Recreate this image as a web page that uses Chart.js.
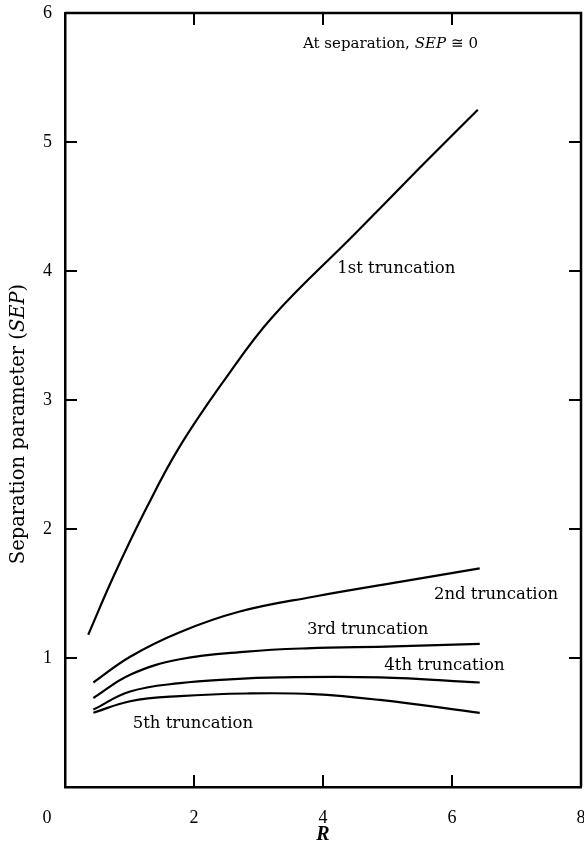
<!DOCTYPE html>
<html>
<head>
<meta charset="utf-8">
<script src="https://cdn.jsdelivr.net/npm/chart.js@4.4.1/dist/chart.umd.min.js"></script>
<style>
  html, body { margin: 0; padding: 0; background: #fff; }
  #wrap { width: 584px; height: 848px; position: relative; }
</style>
</head>
<body>
<div id="wrap"><canvas id="c"></canvas></div>
<script>
// Separation parameter SEP against R for successive truncations
const r1 = [0.36, 0.75, 1.27, 1.78, 2.48, 3.21, 4.50, 5.50, 6.40];
const sep1 = [1.18, 1.63, 2.17, 2.64, 3.16, 3.64, 4.29, 4.80, 5.25];

const r2 = [0.44, 1.01, 1.78, 2.71, 3.85, 5.19, 6.43];
const sep2 = [0.81, 1.01, 1.20, 1.36, 1.475, 1.59, 1.695];

const r3 = [0.44, 1.01, 1.78, 2.82, 3.75, 5.10, 6.43];
const sep3 = [0.69, 0.87, 0.99, 1.05, 1.075, 1.09, 1.11];

const r4 = [0.44, 1.01, 1.78, 2.55, 3.33, 4.88, 6.43];
const sep4 = [0.60, 0.74, 0.805, 0.835, 0.85, 0.85, 0.81];

const r5 = [0.44, 1.01, 1.78, 2.82, 3.85, 4.88, 6.43];
const sep5 = [0.575, 0.665, 0.705, 0.725, 0.72, 0.675, 0.575];

const xTicks = [0, 2, 4, 6, 8];
const yTicks = [0, 1, 2, 3, 4, 5, 6];

const seriesNames = ['1st truncation', '2nd truncation', '3rd truncation', '4th truncation', '5th truncation'];

const pts = (xs, ys) => xs.map((x, i) => ({ x: x, y: ys[i] }));

const serifFont = '"DejaVu Serif", serif';
const tickFont = '"Liberation Serif", "Times New Roman", serif';

// curve captions, anchored in data units (left edge, vertical middle)
const captionAnchors = [
  { text: seriesNames[0], x: 4.22, y: 4.02 },
  { text: seriesNames[1], x: 5.72, y: 1.49 },
  { text: seriesNames[2], x: 3.75, y: 1.22 },
  { text: seriesNames[3], x: 4.95, y: 0.94 },
  { text: seriesNames[4], x: 1.05, y: 0.49 }
];

const framePlugin = {
  id: 'frameAndText',
  afterDraw(chart) {
    const ctx = chart.ctx;
    const xs = chart.scales.x, ys = chart.scales.y;
    const a = chart.chartArea;
    ctx.save();
    ctx.strokeStyle = '#000';
    ctx.fillStyle = '#000';

    // top and right frame edges
    ctx.lineWidth = 2.5;
    ctx.beginPath();
    ctx.moveTo(a.left, a.top);
    ctx.lineTo(a.right, a.top);
    ctx.lineTo(a.right, a.bottom);
    ctx.stroke();

    // inward tick marks on all four sides
    ctx.lineWidth = 2;
    const tl = 12;
    xTicks.slice(1, -1).forEach(v => {
      const px = xs.getPixelForValue(v);
      ctx.beginPath();
      ctx.moveTo(px, a.bottom); ctx.lineTo(px, a.bottom - tl);
      ctx.moveTo(px, a.top); ctx.lineTo(px, a.top + tl);
      ctx.stroke();
    });
    yTicks.slice(1, -1).forEach(v => {
      const py = ys.getPixelForValue(v);
      ctx.beginPath();
      ctx.moveTo(a.left, py); ctx.lineTo(a.left + tl, py);
      ctx.moveTo(a.right, py); ctx.lineTo(a.right - tl, py);
      ctx.stroke();
    });

    // shared origin label
    ctx.font = '18px ' + tickFont;
    ctx.textAlign = 'center';
    ctx.textBaseline = 'middle';
    ctx.fillText('0', a.left - 18, xs.bottom - 30);

    // curve captions
    ctx.font = '16.5px ' + serifFont;
    ctx.textAlign = 'left';
    captionAnchors.forEach(c => {
      ctx.fillText(c.text, xs.getPixelForValue(c.x), ys.getPixelForValue(c.y));
    });

    // note at top: "At separation, SEP ≅ 0" with italic SEP
    let tx = xs.getPixelForValue(3.69);
    const ty = ys.getPixelForValue(5.76);
    const parts = [
      { t: 'At separation, ', f: '15px ' + serifFont },
      { t: 'SEP', f: 'italic 15px ' + serifFont },
      { t: ' \u2245 0', f: '15px ' + serifFont }
    ];
    parts.forEach(p => {
      ctx.font = p.f;
      ctx.fillText(p.t, tx, ty);
      tx += ctx.measureText(p.t).width;
    });

    // y-axis title, rotated, with italic SEP
    const titleParts = [
      { t: 'Separation parameter (', f: '19.5px ' + serifFont },
      { t: 'SEP', f: 'italic 19.5px ' + serifFont },
      { t: ')', f: '19.5px ' + serifFont }
    ];
    let total = 0;
    titleParts.forEach(p => { ctx.font = p.f; total += ctx.measureText(p.t).width; });
    ctx.translate(19, 424);
    ctx.rotate(-Math.PI / 2);
    let off = -total / 2;
    titleParts.forEach(p => {
      ctx.font = p.f;
      ctx.fillText(p.t, off, 0);
      off += ctx.measureText(p.t).width;
    });
    ctx.restore();
  }
};

const lineStyle = {
  borderColor: '#000',
  borderWidth: 2.2,
  pointRadius: 0,
  fill: false,
  showLine: true,
  tension: 0.4
};

new Chart(document.getElementById('c'), {
  type: 'scatter',
  data: {
    datasets: [
      Object.assign({ label: seriesNames[0], data: pts(r1, sep1) }, lineStyle),
      Object.assign({ label: seriesNames[1], data: pts(r2, sep2) }, lineStyle),
      Object.assign({ label: seriesNames[2], data: pts(r3, sep3) }, lineStyle),
      Object.assign({ label: seriesNames[3], data: pts(r4, sep4) }, lineStyle),
      Object.assign({ label: seriesNames[4], data: pts(r5, sep5) }, lineStyle)
    ]
  },
  options: {
    responsive: true,
    maintainAspectRatio: false,
    animation: false,
    layout: { padding: { top: 13, right: 3, left: 0, bottom: 0 } },
    plugins: { legend: { display: false }, tooltip: { enabled: false } },
    scales: {
      x: {
        type: 'linear',
        min: 0, max: 8,
        afterBuildTicks: s => { s.ticks = xTicks.map(v => ({ value: v })); },
        afterFit: s => { s.height = 61; s.paddingLeft = 0; s.paddingRight = 0; },
        grid: { display: false, drawTicks: false },
        border: { display: true, color: '#000', width: 2.5 },
        ticks: {
          color: '#000',
          font: { family: tickFont, size: 18 },
          padding: 20,
          maxRotation: 0,
          callback: v => (v === 0 ? '' : String(v))
        },
        title: {
          display: true,
          text: 'R',
          color: '#000',
          font: { family: tickFont, size: 20, style: 'italic', weight: 'bold' },
          padding: { top: 0, bottom: 1 }
        }
      },
      y: {
        type: 'linear',
        min: 0, max: 6,
        afterBuildTicks: s => { s.ticks = yTicks.map(v => ({ value: v })); },
        afterFit: s => { s.width = 65; s.paddingTop = 0; s.paddingBottom = 0; },
        grid: { display: false, drawTicks: false },
        border: { display: true, color: '#000', width: 2.5 },
        ticks: {
          color: '#000',
          font: { family: tickFont, size: 18 },
          padding: 13,
          callback: v => (v === 0 ? '' : String(v))
        }
      }
    }
  },
  plugins: [framePlugin]
});
</script>
</body>
</html>
